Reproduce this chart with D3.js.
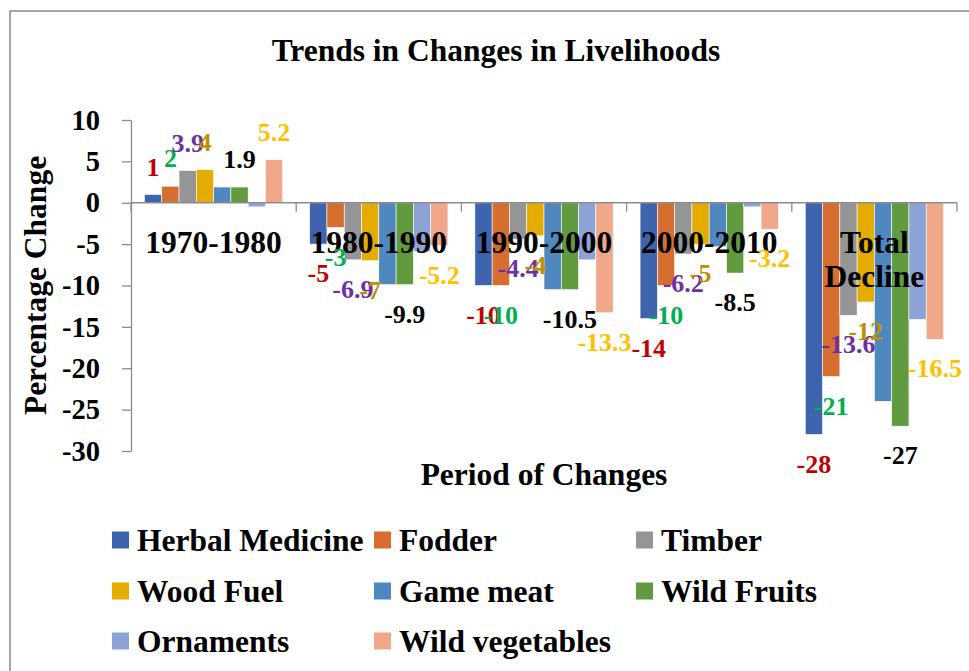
<!DOCTYPE html>
<html>
<head>
<meta charset="utf-8">
<script src="https://cdn.jsdelivr.net/npm/d3@7"></script>
<style>
  body { margin: 0; background: #fff; }
  text { font-family: "Liberation Serif", "Times New Roman", serif; font-weight: bold; }
</style>
</head>
<body>
<div id="chart"></div>
<script>
// data
var categories = ["1970-1980", "1980-1990", "1990-2000", "2000-2010", "Total Decline"];
var seriesNames = ["Herbal Medicine", "Fodder", "Timber", "Wood Fuel", "Game meat", "Wild Fruits", "Ornaments", "Wild vegetables"];
var herbalMedicine = [1, -5, -10, -14, -28];
var fodder = [2, -3, -10, -10, -21];
var timber = [3.9, -6.9, -4.4, -6.2, -13.6];
var woodFuel = [4, -7, -4, -5, -12];
var gameMeat = [1.9, -9.9, -10.5, -5.3, -24];
var wildFruits = [1.9, -9.9, -10.5, -8.5, -27];
var ornaments = [-0.5, -5.9, -6.9, -0.5, -14.1];
var wildVegetables = [5.2, -5.2, -13.3, -3.2, -16.5];
var yTicks = [10, 5, 0, -5, -10, -15, -20, -25, -30];

var seriesValues = [herbalMedicine, fodder, timber, woodFuel, gameMeat, wildFruits, ornaments, wildVegetables];

// styles
var barColors = ["#3E64AD", "#D56E2E", "#959595", "#E5AC00", "#4F88BE", "#629A3F", "#8EA3D5", "#F0A78A"];
// data label colour per series (null = no label shown)
var labelColors = ["#C00000", "#00B050", "#7030A0", "#BF9000", null, "#000000", null, "#FFC000"];
var axisColor = "#8C8C8C";

var width = 969, height = 671;
var plot = { left: 131, right: 957, top: 120, bottom: 451 };

var svg = d3.select("#chart").append("svg")
    .attr("width", width)
    .attr("height", height);

// chart frame
svg.append("rect")
    .attr("x", 10).attr("y", 11)
    .attr("width", 1000).attr("height", 700)
    .attr("fill", "none")
    .attr("stroke", "#8A8A8A")
    .attr("stroke-width", 1.5);

var x0 = d3.scaleBand()
    .domain(categories)
    .range([plot.left, plot.right])
    .padding(0);

var x1 = d3.scaleBand()
    .domain(seriesNames)
    .range([0, x0.bandwidth()])
    .paddingInner(0)
    .paddingOuter(0.78);

var y = d3.scaleLinear()
    .domain([-30, 10])
    .range([plot.bottom, plot.top]);

var rows = [];
categories.forEach(function(cat, i) {
    seriesNames.forEach(function(name, s) {
        rows.push({ cat: cat, name: name, s: s, value: seriesValues[s][i] });
    });
});

// bars
svg.append("g").selectAll("rect")
    .data(rows)
    .join("rect")
    .attr("x", function(d) { return x0(d.cat) + x1(d.name); })
    .attr("y", function(d) { return y(Math.max(0, d.value)); })
    .attr("width", x1.bandwidth())
    .attr("height", function(d) { return Math.abs(y(d.value) - y(0)); })
    .attr("fill", function(d) { return barColors[d.s]; })
    .attr("stroke", "#fff")
    .attr("stroke-width", 0.6);

// y axis (plain hyphen for negatives, like the original)
var yAxis = svg.append("g")
    .attr("transform", "translate(" + plot.left + ",0)")
    .call(d3.axisLeft(y)
        .tickValues(yTicks)
        .tickFormat(function(d) { return String(d); })
        .tickSize(9).tickSizeOuter(0).tickPadding(22));
yAxis.select(".domain").attr("stroke", axisColor).attr("stroke-width", 1.3);
yAxis.selectAll(".tick line").attr("stroke", axisColor).attr("stroke-width", 1.3);
yAxis.selectAll(".tick text")
    .attr("fill", "#000")
    .style("font-size", "28.5px")
    .style("font-family", "'Liberation Serif', serif");

// x axis line with ticks on category boundaries
var xAxis = svg.append("g");
xAxis.append("line")
    .attr("x1", plot.left).attr("x2", plot.right)
    .attr("y1", y(0)).attr("y2", y(0))
    .attr("stroke", axisColor).attr("stroke-width", 1.3);
var bounds = categories.map(function(c) { return x0(c); }).concat([x0.range()[1]]);
xAxis.selectAll(".btick")
    .data(bounds)
    .join("line")
    .attr("x1", function(d) { return d; }).attr("x2", function(d) { return d; })
    .attr("y1", y(0)).attr("y2", y(0) + 9)
    .attr("stroke", axisColor).attr("stroke-width", 1.3);

// category labels, wrapped when wider than the band
var catLabels = svg.append("g").selectAll("text")
    .data(categories)
    .join("text")
    .attr("x", function(d) { return x0(d) + x0.bandwidth() / 2; })
    .attr("y", y(0) + 50)
    .attr("text-anchor", "middle")
    .style("font-size", "31.5px")
    .text(function(d) { return d; });

catLabels.each(function(d) {
    var t = d3.select(this);
    if (this.getComputedTextLength() > x0.bandwidth()) {
        var words = d.split(" ");
        var cx = t.attr("x");
        t.text(null);
        words.forEach(function(w, i) {
            t.append("tspan").attr("x", cx).attr("dy", i === 0 ? 0 : "1.1em").text(w);
        });
    }
});

// data labels
svg.append("g").selectAll("text")
    .data(rows.filter(function(d) { return labelColors[d.s]; }))
    .join("text")
    .attr("x", function(d) { return x0(d.cat) + x1(d.name) + x1.bandwidth() / 2; })
    .attr("y", function(d) { return y(d.value) + (d.value < 0 ? 29 : -28); })
    .attr("dy", "0.35em")
    .attr("text-anchor", "middle")
    .attr("fill", function(d) { return labelColors[d.s]; })
    .style("font-size", "26px")
    .text(function(d) { return d.value; });

// title
svg.append("text")
    .attr("x", 496).attr("y", 61)
    .attr("text-anchor", "middle")
    .style("font-size", "31.5px")
    .text("Trends in Changes in Livelihoods");

// axis titles
svg.append("text")
    .attr("transform", "translate(46," + ((plot.top + plot.bottom) / 2) + ") rotate(-90)")
    .attr("text-anchor", "middle")
    .style("font-size", "31.5px")
    .text("Percentage Change");

svg.append("text")
    .attr("x", (plot.left + plot.right) / 2).attr("y", 485)
    .attr("text-anchor", "middle")
    .style("font-size", "31.5px")
    .text("Period of Changes");

// legend, three columns
var legendCols = [112, 374, 636];
var legendRows = [540, 591, 641];
var legend = svg.append("g").selectAll("g")
    .data(seriesNames)
    .join("g")
    .attr("transform", function(d, i) {
        return "translate(" + legendCols[i % 3] + "," + legendRows[Math.floor(i / 3)] + ")";
    });
legend.append("rect")
    .attr("x", 0).attr("y", -8.5)
    .attr("width", 17).attr("height", 17)
    .attr("fill", function(d, i) { return barColors[i]; });
legend.append("text")
    .attr("x", 25).attr("y", 11)
    .style("font-size", "31.5px")
    .text(function(d) { return d; });
</script>
</body>
</html>
